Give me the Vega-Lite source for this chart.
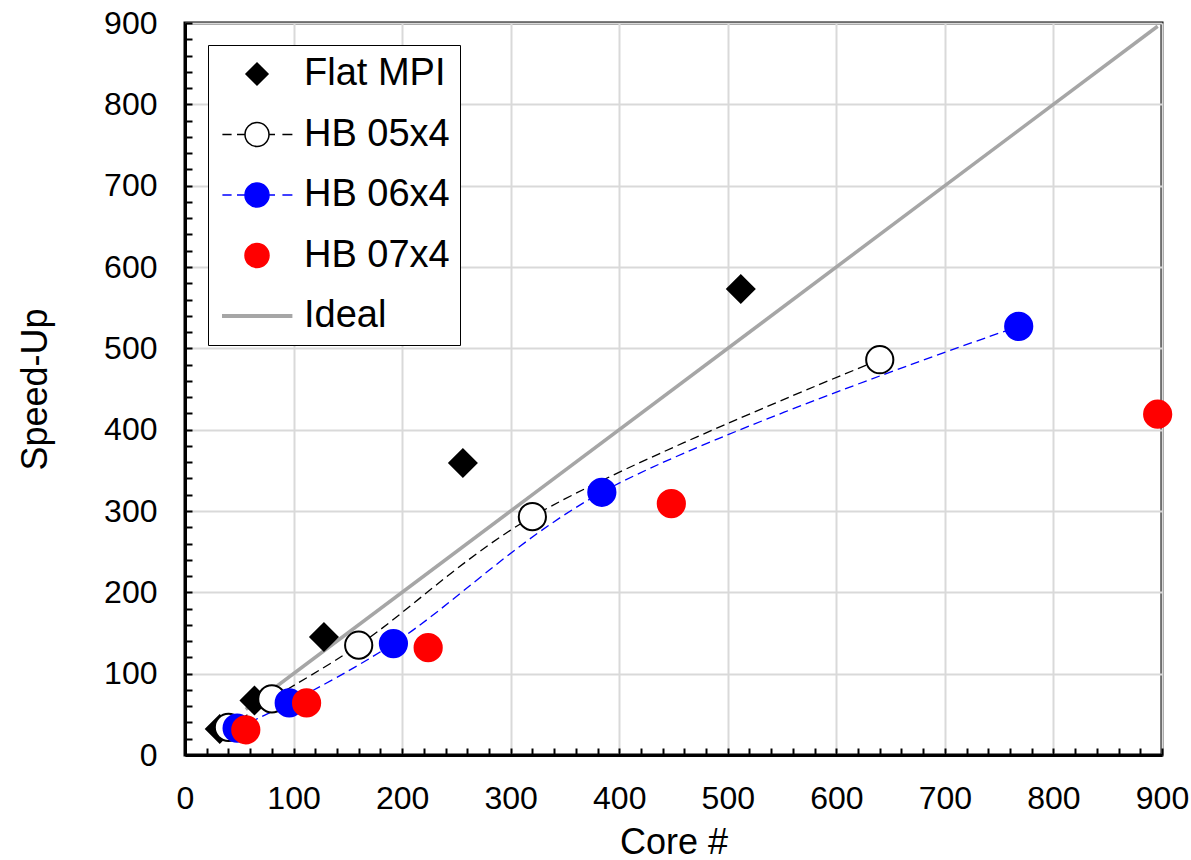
{
  "$schema": "https://vega.github.io/schema/vega-lite/v6.json",
  "width": 977,
  "height": 732,
  "autosize": {"type": "none"},
  "padding": {"left": 185, "top": 23, "right": 29, "bottom": 105},
  "background": "white",
  "config": {
    "view": {"stroke": "black", "strokeWidth": 3},
    "font": "Liberation Sans",
    "legend": {
      "orient": "none", "legendX": 23, "legendY": 22,
      "padding": 10, "rowPadding": 22.5,
      "symbolSize": 1600, "labelOffset": 48,
      "labelFont": "Liberation Sans", "labelFontSize": 38, "labelColor": "black", "labelBaseline": "middle",
      "strokeColor": "black", "fillColor": "white"
    }
  },
  "data": {
    "values": [
      {"series": "Flat MPI", "cores": 32, "speedup": 32},
      {"series": "Flat MPI", "cores": 64, "speedup": 67},
      {"series": "Flat MPI", "cores": 128, "speedup": 145},
      {"series": "Flat MPI", "cores": 256, "speedup": 359},
      {"series": "Flat MPI", "cores": 512, "speedup": 573},
      {"series": "HB 05x4", "cores": 40, "speedup": 34},
      {"series": "HB 05x4", "cores": 80, "speedup": 69},
      {"series": "HB 05x4", "cores": 160, "speedup": 135},
      {"series": "HB 05x4", "cores": 320, "speedup": 293},
      {"series": "HB 05x4", "cores": 640, "speedup": 486},
      {"series": "HB 06x4", "cores": 48, "speedup": 33},
      {"series": "HB 06x4", "cores": 96, "speedup": 64},
      {"series": "HB 06x4", "cores": 192, "speedup": 137},
      {"series": "HB 06x4", "cores": 384, "speedup": 323},
      {"series": "HB 06x4", "cores": 768, "speedup": 527},
      {"series": "HB 07x4", "cores": 56, "speedup": 31},
      {"series": "HB 07x4", "cores": 112, "speedup": 64},
      {"series": "HB 07x4", "cores": 224, "speedup": 132},
      {"series": "HB 07x4", "cores": 448, "speedup": 309},
      {"series": "HB 07x4", "cores": 896, "speedup": 419},
      {"series": "Ideal", "cores": 56, "speedup": 56},
      {"series": "Ideal", "cores": 896, "speedup": 896}
    ]
  },
  "encoding": {
    "x": {
      "field": "cores", "type": "quantitative",
      "scale": {"domain": [0, 900], "nice": false, "zero": true},
      "axis": {
        "title": "Core #",
        "titleFont": "Liberation Sans", "titleFontSize": 36, "titleFontWeight": "normal", "titleColor": "black",
        "titleX": 488.5, "titleY": 87, "titleBaseline": "middle", "titleAlign": "center",
        "values": [0,20,40,60,80,100,120,140,160,180,200,220,240,260,280,300,320,340,360,380,400,420,440,460,480,500,520,540,560,580,600,620,640,660,680,700,720,740,760,780,800,820,840,860,880,900],
        "labelExpr": "datum.value % 100 === 0 ? datum.label : ''",
        "labelOverlap": false, "labelBound": false, "labelFlush": false,
        "labelFont": "Liberation Sans", "labelFontSize": 32, "labelColor": "black",
        "labelPadding": 35,
        "tickSize": -7, "tickColor": "black", "tickWidth": 2,
        "domainColor": "black", "domainWidth": 3,
        "grid": true, "gridColor": "#d9d9d9", "gridWidth": 2,
        "gridOpacity": {"condition": {"test": "datum.value % 100 === 0 && datum.value > 0", "value": 1}, "value": 0}
      }
    },
    "y": {
      "field": "speedup", "type": "quantitative",
      "scale": {"domain": [0, 900], "nice": false, "zero": true},
      "axis": {
        "title": "Speed-Up",
        "titleFont": "Liberation Sans", "titleFontSize": 36, "titleFontWeight": "normal", "titleColor": "black",
        "titleX": -150, "titleY": 366, "titleAngle": 270, "titleBaseline": "middle", "titleAlign": "center",
        "values": [0,20,40,60,80,100,120,140,160,180,200,220,240,260,280,300,320,340,360,380,400,420,440,460,480,500,520,540,560,580,600,620,640,660,680,700,720,740,760,780,800,820,840,860,880,900],
        "labelExpr": "datum.value % 100 === 0 ? datum.label : ''",
        "labelOverlap": false, "labelBound": false, "labelFlush": false,
        "labelFont": "Liberation Sans", "labelFontSize": 32, "labelColor": "black",
        "labelPadding": 35,
        "tickSize": -7, "tickColor": "black", "tickWidth": 2,
        "domainColor": "black", "domainWidth": 3,
        "grid": true, "gridColor": "#d9d9d9", "gridWidth": 2,
        "gridOpacity": {"condition": {"test": "datum.value % 100 === 0 && datum.value > 0", "value": 1}, "value": 0}
      }
    }
  },
  "layer": [
    {
      "transform": [{"filter": "datum.series === 'Ideal'"}],
      "mark": {"type": "line", "color": "#a6a6a6", "strokeWidth": 3.5},
      "encoding": {}
    },
    {
      "transform": [{"filter": "datum.series === 'HB 05x4'"}],
      "mark": {"type": "line", "color": "black", "strokeWidth": 1.3, "strokeDash": [9, 5], "interpolate": "catmull-rom"},
      "encoding": {}
    },
    {
      "transform": [{"filter": "datum.series === 'HB 06x4'"}],
      "mark": {"type": "line", "color": "#0000ff", "strokeWidth": 1.3, "strokeDash": [9, 5], "interpolate": "catmull-rom"},
      "encoding": {}
    },
    {
      "transform": [{"filter": "datum.series !== 'Ideal'"}],
      "mark": {"type": "point", "opacity": 1, "strokeWidth": 2, "size": 740},
      "encoding": {
        "shape": {
          "field": "series", "type": "nominal",
          "scale": {"domain": ["Flat MPI", "HB 05x4", "HB 06x4", "HB 07x4"], "range": ["diamond", "circle", "circle", "circle"]},
          "legend": null
        },
        "fill": {
          "field": "series", "type": "nominal",
          "scale": {"domain": ["Flat MPI", "HB 05x4", "HB 06x4", "HB 07x4", "Ideal"], "range": ["black", "white", "#0000ff", "#ff0000", "transparent"]},
          "legend": {
            "title": null,
            "encoding": {
              "symbols": {
                "shape": {"value": {"expr": "datum.value === 'Flat MPI' ? 'M1,-0.55L1.55,0L1,0.55L0.45,0Z' : (datum.value === 'HB 05x4' || datum.value === 'HB 06x4') ? 'M-0.73,0L-0.27,0M0,0L0.4,0M1.6,0L1.9,0M2.27,0L2.77,0M0.4,0A0.6,0.6 0 1,1 1.6,0A0.6,0.6 0 1,1 0.4,0Z' : datum.value === 'HB 07x4' ? 'M0.4,0A0.6,0.6 0 1,1 1.6,0A0.6,0.6 0 1,1 0.4,0Z' : 'M-0.75,0L2.77,0'"}},
                "strokeWidth": {"value": {"expr": "datum.value === 'Ideal' ? 4 : 1.5"}}
              }
            }
          }
        },
        "stroke": {
          "field": "series", "type": "nominal",
          "scale": {"domain": ["Flat MPI", "HB 05x4", "HB 06x4", "HB 07x4", "Ideal"], "range": ["black", "black", "#0000ff", "#ff0000", "#a6a6a6"]},
          "legend": {
            "title": null,
            "encoding": {
              "symbols": {
                "shape": {"value": {"expr": "datum.value === 'Flat MPI' ? 'M1,-0.55L1.55,0L1,0.55L0.45,0Z' : (datum.value === 'HB 05x4' || datum.value === 'HB 06x4') ? 'M-0.73,0L-0.27,0M0,0L0.4,0M1.6,0L1.9,0M2.27,0L2.77,0M0.4,0A0.6,0.6 0 1,1 1.6,0A0.6,0.6 0 1,1 0.4,0Z' : datum.value === 'HB 07x4' ? 'M0.4,0A0.6,0.6 0 1,1 1.6,0A0.6,0.6 0 1,1 0.4,0Z' : 'M-0.75,0L2.77,0'"}},
                "strokeWidth": {"value": {"expr": "datum.value === 'Ideal' ? 4 : 1.5"}}
              }
            }
          }
        }
      }
    }
  ]
}
